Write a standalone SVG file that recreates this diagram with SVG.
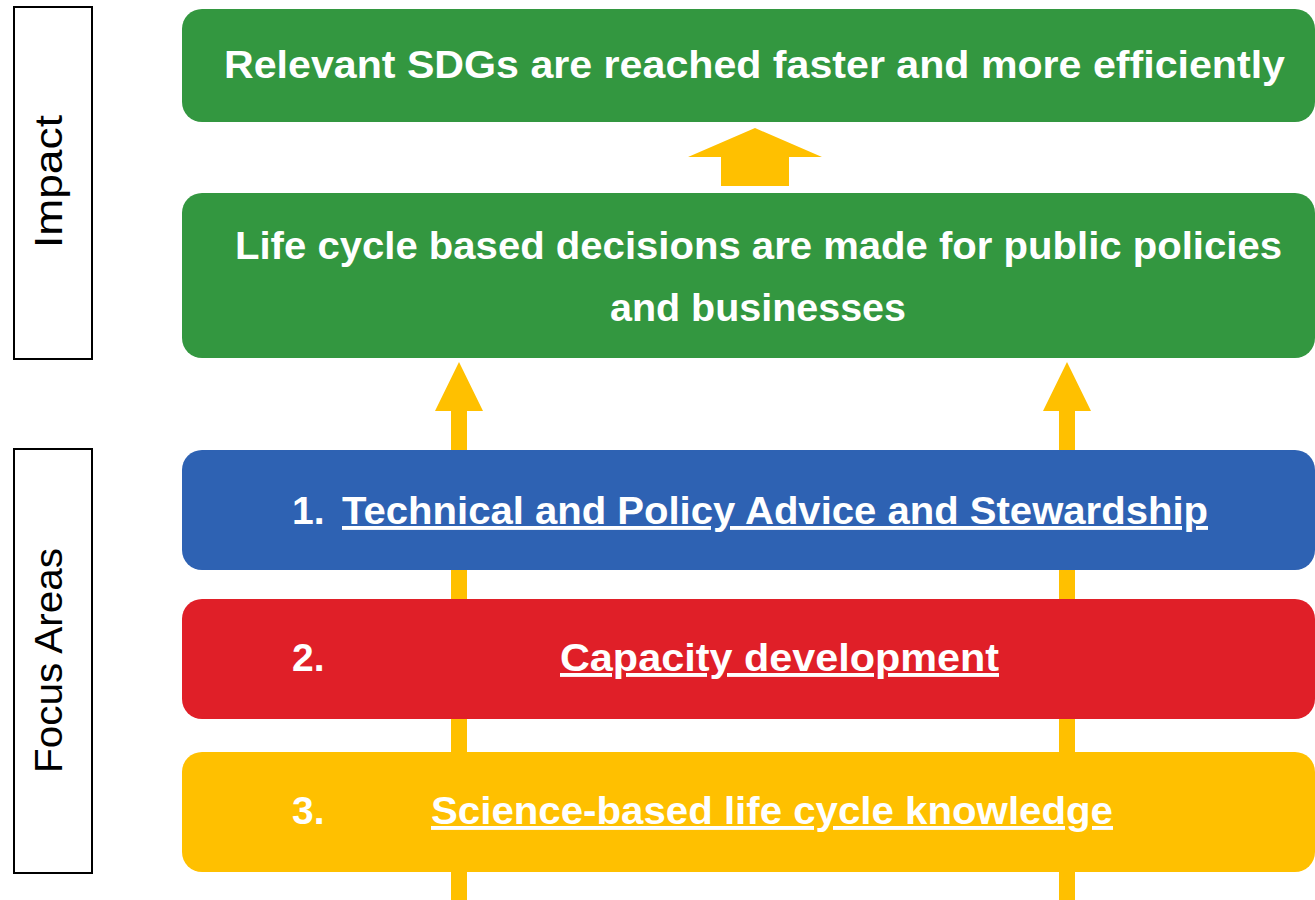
<svg xmlns="http://www.w3.org/2000/svg" width="1315" height="900" viewBox="0 0 1315 900">
<style>
.lbl{font-family:"Liberation Sans",Arial,sans-serif;font-size:38px;fill:#000}
.frame{fill:#fff;stroke:#000;stroke-width:2}
.t{font-family:"Liberation Sans",Arial,sans-serif;font-weight:bold;font-size:39px;fill:#fff}
.u{text-decoration:underline}
.arrow{fill:#FFC000}
</style>
<rect width="1315" height="900" fill="#fff"/>
<g id="connectors">
  <polygon class="arrow" points="451,411 435,411 459,362 483,411 467,411 467,900 451,900"/>
  <polygon class="arrow" points="1059,411 1043,411 1067,362 1091,411 1075,411 1075,900 1059,900"/>
  <polygon class="arrow" points="721,157 688,157 755,128 822,157 789,157 789,186 721,186"/>
</g>
<g id="impact-label">
  <rect class="frame" x="14" y="7" width="78" height="352"/>
  <text class="lbl" transform="translate(62,181.5) rotate(-90)" text-anchor="middle" textLength="133" lengthAdjust="spacingAndGlyphs">Impact</text>
</g>
<g id="focus-label">
  <rect class="frame" x="14" y="449" width="78" height="424"/>
  <text class="lbl" transform="translate(62,660.5) rotate(-90)" text-anchor="middle" textLength="225" lengthAdjust="spacingAndGlyphs">Focus Areas</text>
</g>
<g id="sdgs">
  <rect x="182" y="9" width="1133" height="113" rx="20" fill="#339740"/>
  <text class="t" x="224" y="78" textLength="1061" lengthAdjust="spacingAndGlyphs">Relevant SDGs are reached faster and more efficiently</text>
</g>
<g id="decisions">
  <rect x="182" y="193" width="1133" height="165" rx="20" fill="#339740"/>
  <text class="t" x="235" y="259" textLength="1047" lengthAdjust="spacingAndGlyphs">Life cycle based decisions are made for public policies</text>
  <text class="t" x="610" y="321" textLength="296" lengthAdjust="spacingAndGlyphs">and businesses</text>
</g>
<g id="focus1">
  <rect x="182" y="450" width="1133" height="120" rx="20" fill="#2E62B3"/>
  <text class="t" x="292" y="524">1.</text>
  <text class="t u" x="342" y="524" textLength="866" lengthAdjust="spacingAndGlyphs">Technical and Policy Advice and Stewardship</text>
</g>
<g id="focus2">
  <rect x="182" y="599" width="1133" height="120" rx="20" fill="#E01F28"/>
  <text class="t" x="292" y="671">2.</text>
  <text class="t u" x="560" y="671" textLength="439" lengthAdjust="spacingAndGlyphs">Capacity development</text>
</g>
<g id="focus3">
  <rect x="182" y="752" width="1133" height="120" rx="20" fill="#FFC000"/>
  <text class="t" x="292" y="824">3.</text>
  <text class="t u" x="431" y="824" textLength="682" lengthAdjust="spacingAndGlyphs">Science-based life cycle knowledge</text>
</g>
</svg>
